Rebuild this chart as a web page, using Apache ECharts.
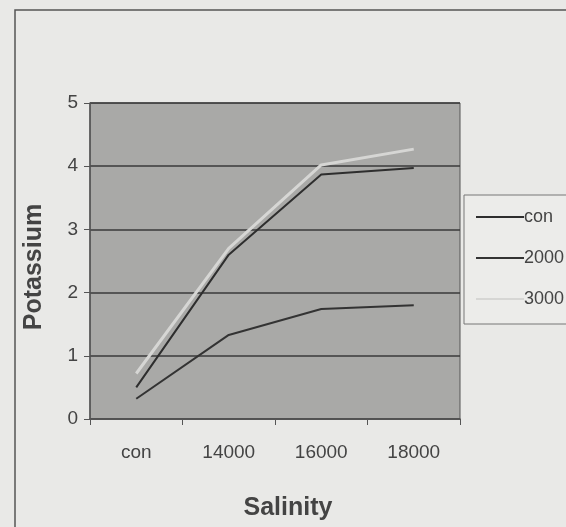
<!DOCTYPE html>
<html>
<head>
<meta charset="utf-8">
<script src="https://cdn.jsdelivr.net/npm/echarts@6/dist/echarts.min.js"></script>
<style>
  html, body { margin: 0; padding: 0; background: #e9e9e7; }
  #chart { width: 566px; height: 527px; }
</style>
</head>
<body>
<div id="chart"></div>
<script>
// salinity levels on the x axis
const salinity = ['con', '14000', '16000', '18000']
// potassium readings per treatment
const conValues = [0.5, 2.6, 3.87, 3.97]
const v2000 = [0.32, 1.33, 1.74, 1.8]
const v3000 = [0.72, 2.7, 4.02, 4.27]
const seriesNames = ['con', '2000', '3000']

const myChart = echarts.init(document.getElementById('chart'))

const labelFont = { color: '#444', fontSize: 19, fontFamily: 'Liberation Sans' }
const titleFont = { color: '#444', fontSize: 25, fontWeight: 'bold', fontFamily: 'Liberation Sans' }

myChart.setOption({
  backgroundColor: '#e9e9e7',
  animation: false,
  // outer frame and legend box
  graphic: [
    {
      type: 'rect',
      shape: { x: 15, y: 10, width: 600, height: 560 },
      style: { fill: 'none', stroke: '#555', lineWidth: 1.5 }
    },
    {
      type: 'rect',
      shape: { x: 464, y: 195, width: 120, height: 129 },
      style: { fill: '#ececea', stroke: '#777', lineWidth: 1 }
    }
  ],
  legend: {
    data: seriesNames,
    orient: 'vertical',
    left: 471,
    top: 203,
    itemWidth: 48,
    itemHeight: 2,
    itemGap: 23,
    icon: 'rect',
    textStyle: Object.assign({}, labelFont, { fontSize: 18, padding: [0, 0, 10, -5] })
  },
  grid: {
    left: 90,
    right: 106,
    top: 103,
    bottom: 108,
    show: true,
    backgroundColor: '#a9a9a7',
    borderColor: '#555',
    borderWidth: 1
  },
  xAxis: {
    type: 'category',
    data: salinity,
    boundaryGap: true,
    name: 'Salinity',
    nameLocation: 'middle',
    nameGap: 77,
    nameTextStyle: Object.assign({ padding: [0, 0, 0, 26] }, titleFont),
    axisLine: { lineStyle: { color: '#555', width: 1.5 } },
    axisTick: { show: true, length: 6, lineStyle: { color: '#555' } },
    axisLabel: Object.assign({ margin: 24 }, labelFont)
  },
  yAxis: {
    type: 'value',
    min: 0,
    max: 5,
    interval: 1,
    name: 'Potassium',
    nameLocation: 'middle',
    nameGap: 43,
    nameTextStyle: Object.assign({ padding: [0, 12, 0, 0] }, titleFont),
    axisLine: { show: true, lineStyle: { color: '#555', width: 1.5 } },
    axisTick: { show: true, length: 6, lineStyle: { color: '#555' } },
    axisLabel: Object.assign({ margin: 12 }, labelFont),
    splitLine: { show: true, lineStyle: { color: '#3a3a3a', width: 1.5 } }
  },
  series: [
    {
      name: 'con',
      type: 'line',
      data: conValues,
      symbol: 'none',
      lineStyle: { color: '#2e2e2e', width: 2 },
      itemStyle: { color: '#2e2e2e' }
    },
    {
      name: '2000',
      type: 'line',
      data: v2000,
      symbol: 'none',
      lineStyle: { color: '#333', width: 2 },
      itemStyle: { color: '#333' }
    },
    {
      name: '3000',
      type: 'line',
      data: v3000,
      symbol: 'none',
      z: 1,
      lineStyle: { color: '#d6d6d4', width: 3 },
      itemStyle: { color: '#d6d6d4' }
    }
  ]
})
</script>
</body>
</html>
